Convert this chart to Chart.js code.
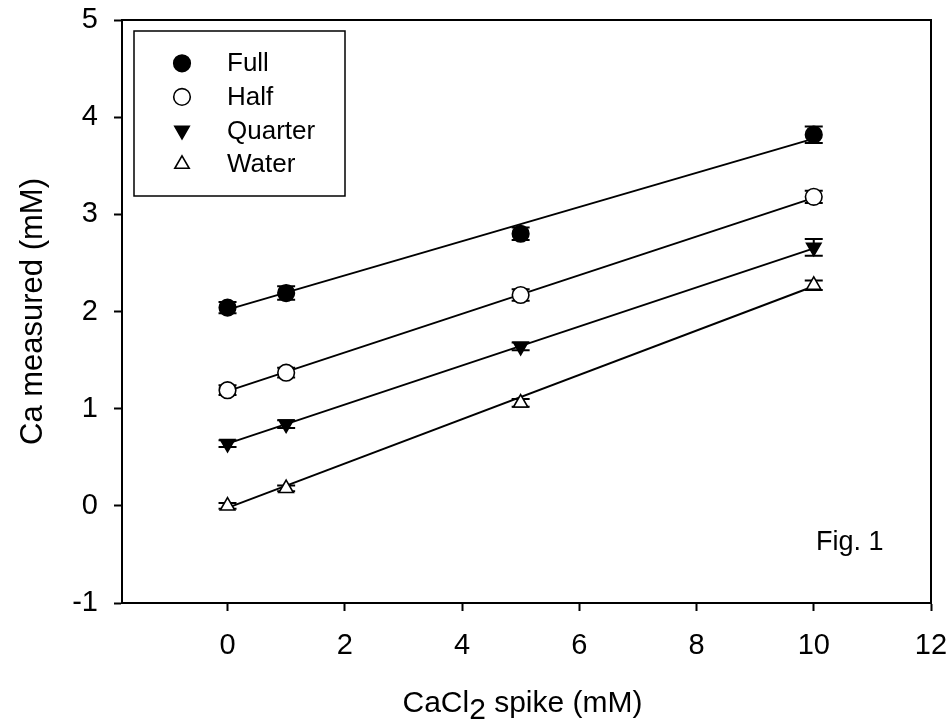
<!DOCTYPE html>
<html><head><meta charset="utf-8">
<script src="https://cdn.jsdelivr.net/npm/chart.js@4.4.0/dist/chart.umd.min.js"></script>
<style>html,body{margin:0;padding:0;background:#fff;} canvas{display:block;}</style>
</head><body>
<canvas id="c" width="951" height="722"></canvas>
<script>
// ---- data ----
const spike = [0, 1, 5, 10];
const seriesNames = ['Full', 'Half', 'Quarter', 'Water'];
const fullVals    = [2.04, 2.19, 2.80, 3.82];
const halfVals    = [1.19, 1.37, 2.17, 3.18];
const quarterVals = [0.64, 0.84, 1.64, 2.66];
const waterVals   = [0.00, 0.18, 1.06, 2.27];
const fullErr    = [0.057, 0.07, 0.065, 0.085];
const halfErr    = [0.05, 0.05, 0.06, 0.063];
const quarterErr = [0.035, 0.04, 0.04, 0.086];
const waterErr   = [0.03, 0.03, 0.04, 0.05];
const fitX       = [0, 10];
const fullFit    = [2.02, 3.78];
const halfFit    = [1.18, 3.17];
const quarterFit = [0.64, 2.65];
const waterFit   = [-0.02, 2.26];
const xTicks = [0, 2, 4, 6, 8, 10, 12];
const yTicks = [-1, 0, 1, 2, 3, 4, 5];
const yTitle = 'Ca measured (mM)';
const xTitleParts = ['CaCl', '2', ' spike (mM)'];
const figText = 'Fig. 1';

const FONT = '"Liberation Sans", Arial, Helvetica, sans-serif';
const pts = (vals) => spike.map((x, i) => ({x: x, y: vals[i]}));
const fit = (vals) => fitX.map((x, i) => ({x: x, y: vals[i]}));

const styles = [
  {pointStyle: 'circle',   rotation: 0,   bg: '#000'},
  {pointStyle: 'circle',   rotation: 0,   bg: '#fff'},
  {pointStyle: 'triangle', rotation: 180, bg: '#000'},
  {pointStyle: 'triangle', rotation: 0,   bg: '#fff'}
];
const seriesVals = [fullVals, halfVals, quarterVals, waterVals];
const seriesErr = [fullErr, halfErr, quarterErr, waterErr];
const seriesFit = [fullFit, halfFit, quarterFit, waterFit];

const datasets = [];
seriesNames.forEach((name, i) => {
  datasets.push({
    type: 'scatter', label: name, data: pts(seriesVals[i]), errors: seriesErr[i],
    pointStyle: styles[i].pointStyle, rotation: styles[i].rotation,
    pointRadius: 8.3, pointHoverRadius: 8.3, pointBackgroundColor: styles[i].bg,
    pointBorderColor: '#000', pointBorderWidth: 1.6, showLine: false, order: 1, isMarker: true
  });
});
seriesNames.forEach((name, i) => {
  datasets.push({
    type: 'line', label: name + ' fit', data: fit(seriesFit[i]),
    borderColor: '#000', borderWidth: 1.9, pointRadius: 0, fill: false, order: 2, isMarker: false
  });
});

const errorBars = {
  id: 'errorBars',
  beforeDatasetsDraw(chart) {
    const ctx = chart.ctx, xs = chart.scales.x, ys = chart.scales.y;
    ctx.save();
    ctx.strokeStyle = '#000'; ctx.lineWidth = 2;
    chart.data.datasets.forEach(ds => {
      if (!ds.errors) return;
      ds.data.forEach((p, j) => {
        const px = xs.getPixelForValue(p.x);
        const y1 = ys.getPixelForValue(p.y + ds.errors[j]);
        const y2 = ys.getPixelForValue(p.y - ds.errors[j]);
        ctx.beginPath();
        ctx.moveTo(px, y1); ctx.lineTo(px, y2);
        ctx.moveTo(px - 9, y1); ctx.lineTo(px + 9, y1);
        ctx.moveTo(px - 9, y2); ctx.lineTo(px + 9, y2);
        ctx.stroke();
      });
    });
    ctx.restore();
  }
};

const decor = {
  id: 'decor',
  afterDraw(chart) {
    const ctx = chart.ctx, ca = chart.chartArea, xs = chart.scales.x, ys = chart.scales.y;
    ctx.save();
    // top and right frame lines
    ctx.strokeStyle = '#000'; ctx.lineWidth = 2;
    ctx.beginPath();
    ctx.moveTo(ca.left, ca.top); ctx.lineTo(ca.right, ca.top); ctx.lineTo(ca.right, ca.bottom);
    ctx.stroke();

    // legend box
    const bx = ca.left + 12, by = ca.top + 11, bw = 211, bh = 165;
    ctx.lineWidth = 1.5;
    ctx.strokeRect(bx, by, bw, bh);
    ctx.font = '26px ' + FONT;
    ctx.textAlign = 'left'; ctx.textBaseline = 'middle';
    chart.data.datasets.filter(d => d.isMarker).forEach((ds, i) => {
      const cy = by + 32.3 + i * 33.6;
      ctx.fillStyle = ds.pointBackgroundColor; ctx.strokeStyle = '#000'; ctx.lineWidth = 1.6;
      Chart.helpers.drawPoint(ctx, {pointStyle: ds.pointStyle, rotation: ds.rotation, radius: 8.3, borderWidth: 1.6}, bx + 48, cy);
      ctx.fillStyle = '#000';
      ctx.fillText(ds.label, bx + 93, cy + 1);
    });

    // x-axis title with subscript
    ctx.font = '30px ' + FONT;
    ctx.textBaseline = 'alphabetic';
    const w = xTitleParts.map(t => ctx.measureText(t).width);
    const total = w[0] + w[1] + w[2];
    let sx = (ca.left + ca.right) / 2 - 4 - total / 2;
    const base = chart.height - 10;
    ctx.fillStyle = '#000';
    ctx.fillText(xTitleParts[0], sx, base); sx += w[0];
    ctx.fillText(xTitleParts[1], sx, base + 7); sx += w[1];
    ctx.fillText(xTitleParts[2], sx, base);

    // figure label
    ctx.font = '27px ' + FONT;
    ctx.fillText(figText, xs.getPixelForValue(10.04), ys.getPixelForValue(-0.45));
    ctx.restore();
  }
};

new Chart(document.getElementById('c'), {
  data: {datasets: datasets},
  options: {
    responsive: false, animation: false, devicePixelRatio: 1,
    layout: {padding: {left: 0, right: 20, top: 20, bottom: 0}},
    plugins: {legend: {display: false}, tooltip: {enabled: false}},
    scales: {
      x: {
        type: 'linear', min: -1.8, max: 12,
        afterBuildTicks: s => { s.ticks = xTicks.map(v => ({value: v})); },
        afterFit: s => { s.height = 119; s.paddingLeft = 0; s.paddingRight = 0; },
        grid: {drawOnChartArea: false, drawTicks: true, tickLength: 8, tickWidth: 2, tickColor: '#000'},
        border: {display: true, color: '#000', width: 2},
        ticks: {color: '#000', font: {family: FONT, size: 29}, padding: 18, maxRotation: 0, autoSkip: false}
      },
      y: {
        type: 'linear', min: -1, max: 5,
        afterBuildTicks: s => { s.ticks = yTicks.map(v => ({value: v})); },
        afterFit: s => { s.width = 122; s.paddingTop = 0; s.paddingBottom = 0; },
        grid: {drawOnChartArea: false, drawTicks: true, tickLength: 8, tickWidth: 2, tickColor: '#000'},
        border: {display: true, color: '#000', width: 2},
        ticks: {color: '#000', font: {family: FONT, size: 29}, padding: 16, autoSkip: false},
        title: {display: true, text: yTitle, color: '#000', font: {family: FONT, size: 31}, padding: {top: 15, bottom: 0}}
      }
    }
  },
  plugins: [errorBars, decor]
});
</script>
</body></html>
